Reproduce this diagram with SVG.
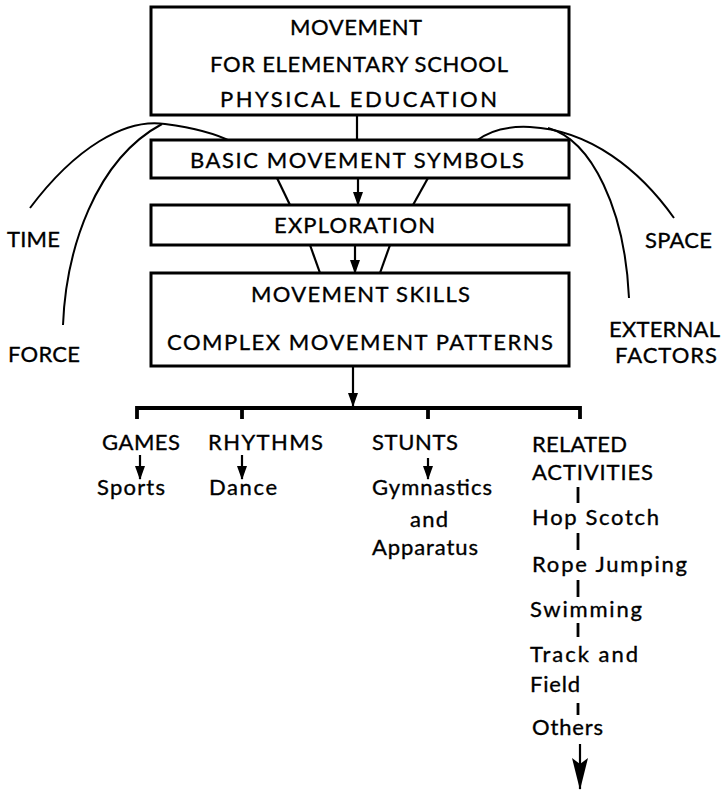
<svg xmlns="http://www.w3.org/2000/svg" width="722" height="790" viewBox="0 0 722 790">
<style>
.box{fill:#fff;stroke:#000;stroke-width:3}
.t{font-family:Lato,"Open Sans","Liberation Sans",sans-serif;font-size:22px;fill:#000;stroke:#000;stroke-width:0.35}
.ln{fill:none;stroke:#000;stroke-width:2.2}
.cv{fill:none;stroke:#000;stroke-width:2}
.br{fill:none;stroke:#000;stroke-width:3.8}
.dash{stroke:#000;stroke-width:2.8}
</style>
<defs>
<marker id="a" markerUnits="userSpaceOnUse" markerWidth="14" markerHeight="10" refX="13" refY="5" orient="auto" viewBox="0 0 14 10"><path d="M0,0 L14,5 L0,10 Z" fill="#000"/></marker>
<marker id="big" markerUnits="userSpaceOnUse" markerWidth="32" markerHeight="16" refX="31" refY="8" orient="auto" viewBox="0 0 32 16"><path d="M0,0 L32,8 L0,16 L6,8 Z" fill="#000"/></marker>
</defs>
<g id="connectors">
<path class="cv" d="M30,208 C75,148 125,118 165,124 C195,128 215,133 232,142"/>
<path class="cv" d="M63,325 C66,250 95,160 162,124"/>
<path class="cv" d="M476,141 C490,130 510,126 530,127 C590,130 640,170 674,218"/>
<path class="cv" d="M548,128 C592,140 625,210 629,298"/>
<line class="ln" x1="357" y1="115" x2="357" y2="140"/>
<line class="ln" x1="358" y1="178" x2="358" y2="205" marker-end="url(#a)"/>
<line class="ln" x1="277" y1="178" x2="290" y2="205"/>
<line class="ln" x1="428" y1="178" x2="413" y2="205"/>
<line class="ln" x1="355" y1="245" x2="355" y2="273" marker-end="url(#a)"/>
<line class="ln" x1="310" y1="245" x2="320" y2="273"/>
<line class="ln" x1="390" y1="245" x2="380" y2="273"/>
<line class="ln" x1="327" y1="311" x2="331" y2="326" marker-end="url(#a)"/>
<line class="ln" x1="369" y1="311" x2="361" y2="326" marker-end="url(#a)"/>
<line class="ln" x1="353" y1="366" x2="353" y2="406" stroke-width="2.8" marker-end="url(#a)"/>
<path class="br" d="M137,419 V408 H580 V419 M242,408 V419 M428,408 V419"/>
<line class="ln" x1="140" y1="455" x2="140" y2="479" marker-end="url(#a)"/>
<line class="ln" x1="242" y1="455" x2="242" y2="479" marker-end="url(#a)"/>
<line class="ln" x1="428" y1="458" x2="428" y2="479" marker-end="url(#a)"/>
<line class="dash" x1="578" y1="487" x2="578" y2="503"/>
<line class="dash" x1="578" y1="533" x2="578" y2="550"/>
<line class="dash" x1="578" y1="580" x2="578" y2="597"/>
<line class="dash" x1="578" y1="623" x2="578" y2="637"/>
<line class="dash" x1="578" y1="703" x2="578" y2="715"/>
<line class="ln" x1="580" y1="744" x2="580" y2="789" stroke-width="2.8" marker-end="url(#big)"/>
</g>
<g id="top">
<rect class="box" x="151" y="7" width="418" height="108"/>
<text class="t" x="290" y="35" textLength="132" lengthAdjust="spacing">MOVEMENT</text>
<text class="t" x="210" y="72" textLength="298" lengthAdjust="spacing">FOR ELEMENTARY SCHOOL</text>
<text class="t" x="220" y="107" textLength="277" lengthAdjust="spacing">PHYSICAL EDUCATION</text>
</g>
<g id="basic">
<rect class="box" x="151" y="140" width="418" height="38"/>
<text class="t" x="190" y="168" textLength="334" lengthAdjust="spacing">BASIC MOVEMENT SYMBOLS</text>
</g>
<g id="exploration">
<rect class="box" x="151" y="205" width="418" height="40"/>
<text class="t" x="274" y="233" textLength="161" lengthAdjust="spacing">EXPLORATION</text>
</g>
<g id="skills">
<rect class="box" x="151" y="273" width="418" height="93"/>
<text class="t" x="251" y="302" textLength="219" lengthAdjust="spacing">MOVEMENT SKILLS</text>
<text class="t" x="167" y="350" textLength="386" lengthAdjust="spacing">COMPLEX MOVEMENT PATTERNS</text>
</g>
<g id="time"><text class="t" x="7" y="247" textLength="53" lengthAdjust="spacing">TIME</text></g>
<g id="force"><text class="t" x="8" y="362" textLength="72" lengthAdjust="spacing">FORCE</text></g>
<g id="space"><text class="t" x="645" y="248" textLength="67" lengthAdjust="spacing">SPACE</text></g>
<g id="external"><text class="t" x="609" y="337" textLength="111" lengthAdjust="spacing">EXTERNAL</text><text class="t" x="615" y="363" textLength="102" lengthAdjust="spacing">FACTORS</text></g>
<g id="games"><text class="t" x="102" y="450" textLength="78" lengthAdjust="spacing">GAMES</text></g>
<g id="sports"><text class="t" x="97" y="495" textLength="68" lengthAdjust="spacing">Sports</text></g>
<g id="rhythms"><text class="t" x="208" y="450" textLength="115" lengthAdjust="spacing">RHYTHMS</text></g>
<g id="dance"><text class="t" x="209" y="495" textLength="68" lengthAdjust="spacing">Dance</text></g>
<g id="stunts"><text class="t" x="372" y="450" textLength="86" lengthAdjust="spacing">STUNTS</text></g>
<g id="gymnastics"><text class="t" x="372" y="495" textLength="120" lengthAdjust="spacing">Gymnastics</text><text class="t" x="410" y="527" textLength="38" lengthAdjust="spacing">and</text><text class="t" x="372" y="555" textLength="106" lengthAdjust="spacing">Apparatus</text></g>
<g id="related"><text class="t" x="532" y="452" textLength="95" lengthAdjust="spacing">RELATED</text><text class="t" x="532" y="480" textLength="121" lengthAdjust="spacing">ACTIVITIES</text></g>
<g id="hopscotch"><text class="t" x="532" y="525" textLength="127" lengthAdjust="spacing">Hop Scotch</text></g>
<g id="rope"><text class="t" x="532" y="572" textLength="155" lengthAdjust="spacing">Rope Jumping</text></g>
<g id="swimming"><text class="t" x="530" y="617" textLength="112" lengthAdjust="spacing">Swimming</text></g>
<g id="track"><text class="t" x="530" y="662" textLength="108" lengthAdjust="spacing">Track and</text><text class="t" x="530" y="692" textLength="50" lengthAdjust="spacing">Field</text></g>
<g id="others"><text class="t" x="532" y="735" textLength="71" lengthAdjust="spacing">Others</text></g>
</svg>
